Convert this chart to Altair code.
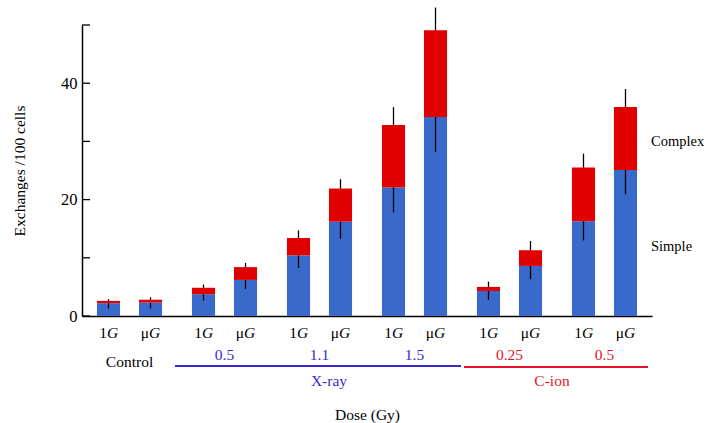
import altair as alt
import pandas as pd

# ---------------- data ----------------
groups = ["Control", "X-ray 0.5", "X-ray 1.1", "X-ray 1.5", "C-ion 0.25", "C-ion 0.5"]
modality = ["Control", "X-ray", "X-ray", "X-ray", "C-ion", "C-ion"]
dose_labels = ["Control", "0.5", "1.1", "1.5", "0.25", "0.5"]
gravity = ["1G", "μG"]
gravity_prefix = ["1", "μ"]

# per bar, order: group by group, 1G then μG
simple = [2.2, 2.3, 3.75, 6.2, 10.4, 16.2, 22.1, 34.2, 4.3, 8.6, 16.3, 25.1]
complex_ = [0.4, 0.5, 1.1, 2.2, 3.0, 5.7, 10.7, 14.9, 0.7, 2.7, 9.2, 10.8]
total_err = [0.3, 0.4, 0.55, 0.7, 1.3, 1.6, 3.1, 3.9, 0.9, 1.6, 2.4, 3.1]
simple_err = [0.9, 1.0, 1.1, 1.5, 2.15, 2.9, 4.3, 6.0, 1.5, 2.3, 3.3, 4.2]

y_ticks = [0, 10, 20, 30, 40, 50]

BLUE = "#3a69cc"
RED = "#e00000"
BLUE_TXT = "#3c28d2"
RED_TXT = "#e5142a"
FONT = "Liberation Serif"

rows = []
for i in range(len(simple)):
    g = groups[i // 2]
    k = i % 2
    tot = simple[i] + complex_[i]
    rows.append({
        "group": g,
        "grav": gravity[k],
        "prefix": gravity_prefix[k],
        "suffix": "G",
        "simple": simple[i],
        "total": tot,
        "top": tot + total_err[i],
        "bottom": simple[i] - simple_err[i],
    })
df = pd.DataFrame(rows)

W, H = 570, 291

xs = alt.Scale(domain=groups, paddingInner=0.1158, paddingOuter=0.058)
x_enc = alt.X("group:N", scale=xs,
              axis=alt.Axis(labels=False, ticks=False, title="Dose (Gy)",
                            titlePadding=91, titleFont=FONT, titleFontSize=15.5,
                            titleFontWeight="normal", titleColor="black",
                            domainColor="black", domainWidth=1.5))
xo_enc = alt.XOffset("grav:N", scale=alt.Scale(domain=gravity, paddingInner=0.45, paddingOuter=0.225))
ys = alt.Scale(domain=[0, 50], nice=False)

base = alt.Chart(df)

bars_simple = base.mark_bar(color=BLUE).encode(
    x=x_enc, xOffset=xo_enc,
    y=alt.Y("simple:Q", scale=ys,
            axis=alt.Axis(values=y_ticks, ticks=False, grid=False,
                          labelExpr="datum.value % 20 == 0 ? datum.label : ''",
                          labelFont=FONT, labelFontSize=16.5, labelColor="black",
                          labelPadding=5, domainColor="black", domainWidth=1.5,
                          title="Exchanges /100 cells", titleFont=FONT,
                          titleFontSize=15.5, titleFontWeight="normal",
                          titleColor="black", titlePadding=33)),
)
bars_complex = base.mark_bar(color=RED).encode(
    x=x_enc, xOffset=xo_enc,
    y=alt.Y("simple:Q", scale=ys), y2="total:Q",
)
err_top = base.mark_rule(color="black", strokeWidth=1.3).encode(
    x=x_enc, xOffset=xo_enc, y=alt.Y("total:Q", scale=ys), y2="top:Q",
)
err_bot = base.mark_rule(color="black", strokeWidth=1.3).encode(
    x=x_enc, xOffset=xo_enc, y=alt.Y("simple:Q", scale=ys), y2="bottom:Q",
)

lab_pre = base.mark_text(font=FONT, fontSize=15.5, align="right", baseline="middle", dx=-1.5, color="black").encode(
    x=x_enc, xOffset=xo_enc, y=alt.value(H + 17), text="prefix:N",
)
lab_suf = base.mark_text(font=FONT, fontSize=15.5, fontStyle="italic", align="left", baseline="middle", dx=-1.5, color="black").encode(
    x=x_enc, xOffset=xo_enc, y=alt.value(H + 17), text="suffix:N",
)

# y ticks pointing inward
tick_df = pd.DataFrame({"t": y_ticks})
yticks = alt.Chart(tick_df).mark_rule(color="black", strokeWidth=1.3).encode(
    y=alt.Y("t:Q", scale=ys), x=alt.value(0), x2=alt.value(8),
)

# dose labels
dose_df = pd.DataFrame({"group": groups, "modality": modality, "dose": dose_labels})
color_scale = alt.Scale(domain=["Control", "X-ray", "C-ion"], range=["black", BLUE_TXT, RED_TXT])
dose_txt = alt.Chart(dose_df).transform_filter("datum.modality != 'Control'").mark_text(
    font=FONT, fontSize=15.5, baseline="middle").encode(
    x=x_enc, y=alt.value(H + 39), text="dose:N",
    color=alt.Color("modality:N", scale=color_scale, legend=None),
)
ctrl_txt = alt.Chart(dose_df).transform_filter("datum.modality == 'Control'").mark_text(
    font=FONT, fontSize=15.5, baseline="middle", color="black").encode(
    x=x_enc, y=alt.value(H + 46), text="dose:N",
)

# modality spans
span_df = pd.DataFrame({"start": [groups[1]], "end": [groups[3]]})
span_blue = alt.Chart(span_df).mark_rule(color=BLUE_TXT, strokeWidth=2, xOffset=-7.5, x2Offset=4.5).encode(
    x=alt.X("start:N", scale=xs, bandPosition=0), x2=alt.X2("end:N", bandPosition=1), y=alt.value(H + 50),
)
span_df2 = pd.DataFrame({"start": [groups[4]], "end": [groups[5]]})
span_red = alt.Chart(span_df2).mark_rule(color=RED_TXT, strokeWidth=2, xOffset=-3.5, x2Offset=1.5).encode(
    x=alt.X("start:N", scale=xs, bandPosition=0), x2=alt.X2("end:N", bandPosition=1), y=alt.value(H + 51),
)

mod_df = pd.DataFrame({"group": [groups[2]], "label": ["X-ray"]})
xray_txt = alt.Chart(mod_df).mark_text(font=FONT, fontSize=15.5, baseline="middle", dx=9.5, color=BLUE_TXT).encode(
    x=x_enc, y=alt.value(H + 65), text="label:N",
)
mod_df2 = pd.DataFrame({"group": [groups[4]], "label": ["C-ion"]})
cion_txt = alt.Chart(mod_df2).mark_text(font=FONT, fontSize=15.5, baseline="middle", dx=42.5, color=RED_TXT).encode(
    x=x_enc, y=alt.value(H + 65), text="label:N",
)

# segment labels at right
seg_df = pd.DataFrame({"label": ["Complex", "Simple"], "v": [29.9, 11.9]})
seg_txt = alt.Chart(seg_df).mark_text(font=FONT, fontSize=14.5, align="left", baseline="middle", color="black").encode(
    x=alt.value(W - 1), y=alt.Y("v:Q", scale=ys), text="label:N",
)

chart = alt.layer(
    bars_simple, bars_complex, err_top, err_bot, yticks,
    lab_pre, lab_suf, dose_txt, ctrl_txt, span_blue, span_red,
    xray_txt, cion_txt, seg_txt,
).properties(
    width=W, height=H,
    autosize=alt.AutoSizeParams(type="none"),
    padding={"left": 82, "top": 25, "right": 711 - 82 - W, "bottom": 423 - 25 - H},
    background="white",
).configure_view(stroke=None)

chart.save("out.html", embed_options={"renderer": "svg", "actions": False})
